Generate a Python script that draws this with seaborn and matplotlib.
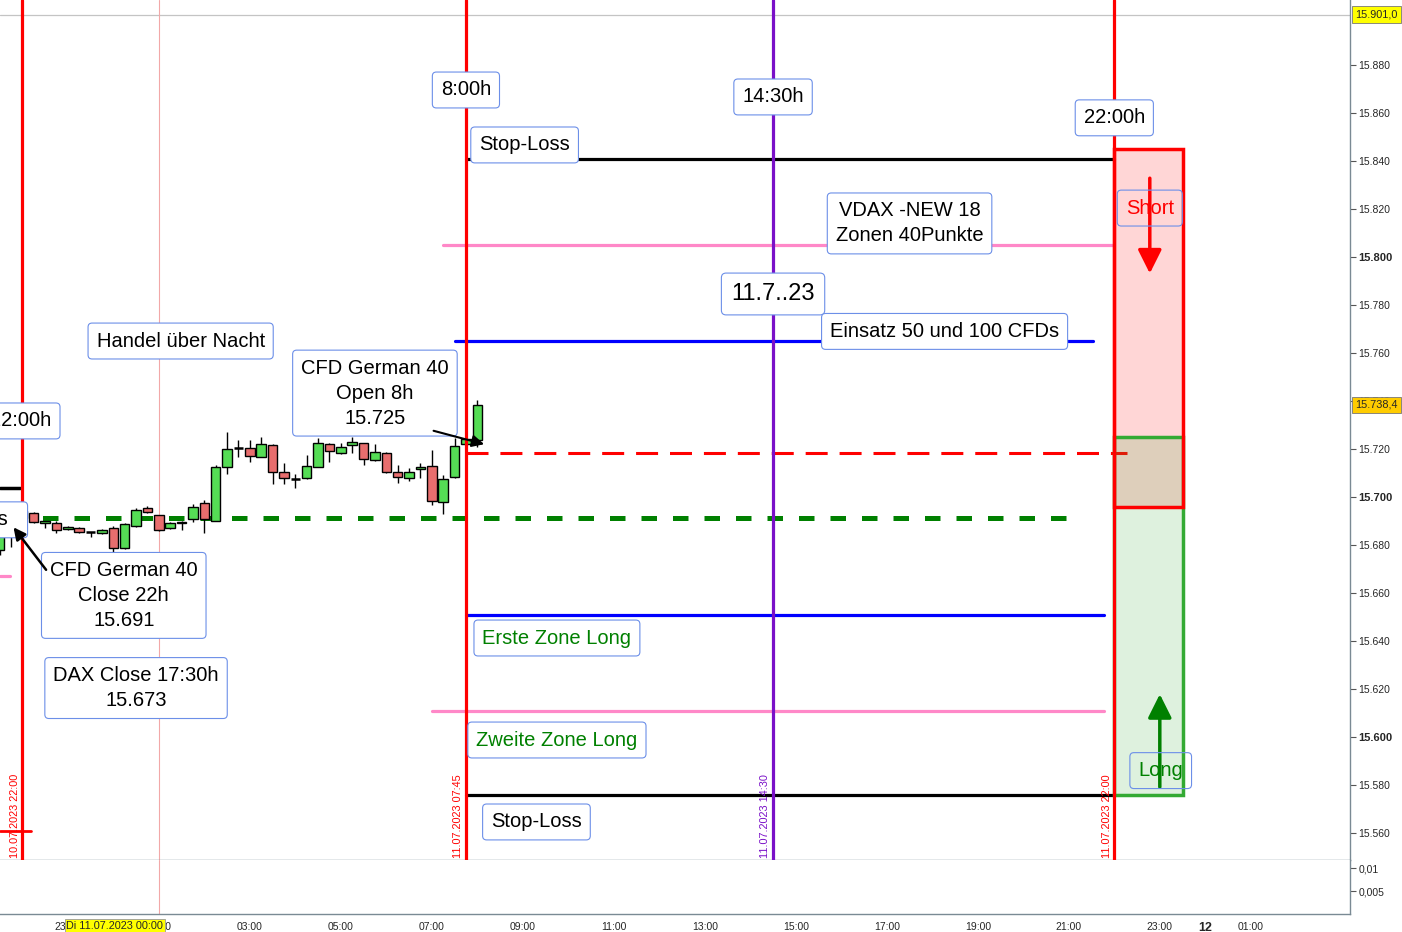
import numpy as np
import pandas as pd
import seaborn as sns
import matplotlib.pyplot as plt
from matplotlib.patches import Rectangle
from matplotlib.transforms import blended_transform_factory

sns.set_style('white')
plt.rcParams['font.family'] = ['Liberation Sans', 'DejaVu Sans']

# 15-min candles, 10.07.2023 21:30 -> 11.07.2023 08:00
times = pd.date_range('2023-07-10 21:30', '2023-07-11 08:00', freq='15min')
opens = [15678.0, 15685.0, 15691.2, 15693.3, 15689.2, 15689.2, 15686.7, 15687.1, 15685.4, 15685.0,
         15687.1, 15678.8, 15687.9, 15695.4, 15692.5, 15687.1, 15689.2, 15690.8, 15697.5, 15690.0,
         15712.5, 15720.4, 15720.4, 15716.7, 15721.7, 15710.4, 15707.5, 15707.9, 15712.5, 15722.1,
         15718.3, 15721.7, 15722.5, 15715.4, 15718.3, 15710.4, 15707.9, 15711.7, 15712.9, 15697.9,
         15708.3, 15722.1, 15723.8]
highs = [15687.0, 15692.5, 15695.0, 15693.8, 15690.2, 15690.0, 15688.0, 15687.5, 15685.6, 15686.5,
         15687.9, 15689.0, 15695.4, 15696.2, 15692.7, 15689.5, 15689.8, 15697.1, 15698.8, 15713.3,
         15727.1, 15723.8, 15723.8, 15725.0, 15722.0, 15714.2, 15709.6, 15717.5, 15724.6, 15722.5,
         15722.5, 15725.0, 15722.7, 15722.1, 15718.8, 15713.3, 15712.1, 15714.2, 15719.6, 15709.2,
         15724.6, 15725.0, 15740.4]
lows = [15676.0, 15679.2, 15690.5, 15689.0, 15687.1, 15685.0, 15686.3, 15685.0, 15683.3, 15684.6,
        15676.7, 15678.5, 15687.5, 15693.5, 15686.0, 15686.8, 15686.2, 15689.6, 15685.0, 15689.8,
        15709.6, 15716.7, 15714.6, 15716.5, 15705.4, 15705.4, 15703.8, 15707.7, 15712.3, 15714.6,
        15718.0, 15718.3, 15713.3, 15715.0, 15710.0, 15705.8, 15706.7, 15707.9, 15696.7, 15692.9,
        15708.0, 15721.5, 15720.8]
closes = [15686.0, 15690.8, 15694.2, 15689.6, 15690.0, 15686.2, 15687.5, 15685.4, 15685.4, 15686.2,
          15678.8, 15688.8, 15694.6, 15693.8, 15686.2, 15689.2, 15689.6, 15695.8, 15690.8, 15712.5,
          15720.0, 15720.4, 15717.1, 15722.1, 15710.4, 15707.9, 15707.5, 15712.9, 15722.5, 15719.2,
          15720.8, 15722.9, 15715.8, 15718.8, 15710.4, 15708.3, 15710.4, 15712.5, 15698.3, 15707.5,
          15721.2, 15724.2, 15738.4]

# horizontal levels: name, price, start hour, end hour
level_names = ['sl_top', 'vdax_top', 'blue_top', 'open_8h', 'close_22h', 'blue_low', 'vdax_low', 'sl_low']
level_prices = [15841, 15805, 15765, 15718.3, 15691.2, 15651, 15611, 15576]
level_start = [7.75, 7.25, 7.5, 7.75, -2.25, 7.75, 7.0, 7.75]
level_end = [22.0, 22.0, 21.53, 22.28, 21.3, 21.77, 21.77, 22.0]

vline_hours = [-2.0, 7.75, 14.5, 22.0]
vline_labels = ['10.07.2023 22:00', '11.07.2023 07:45', '11.07.2023 14:30', '11.07.2023 22:00']
vline_colors = ['#ff0000', '#ff0000', '#7a10c8', '#ff0000']

short_zone = (15845, 15695.8)
long_zone = (15725, 15576)

base = pd.Timestamp('2023-07-11 00:00')
hours = (times - base) / pd.Timedelta(hours=1)

fig = plt.figure(figsize=(14.02, 9.32), dpi=100)
ax = fig.add_axes([0, 1 - 860 / 932, 1350 / 1402, 860 / 932])
ax2 = fig.add_axes([0, 1 - 914 / 932, 1350 / 1402, 54 / 932], sharex=ax)

x0, x1 = -2.49, 27.18
ax.set_xlim(x0, x1)
ax.set_ylim(15548.75, 15907.1)
ax2.set_ylim(0, 0.01174)

# candles
w = 0.21
for h, o, hi, lo, c in zip(hours, opens, highs, lows, closes):
    ax.vlines(h, lo, hi, color='black', lw=1, zorder=3)
    if abs(c - o) < 0.05:
        ax.hlines(o, h - w / 2, h + w / 2, color='black', lw=1.8, zorder=4)
    else:
        col = '#55dd55' if c > o else '#e86e6e'
        ax.add_patch(Rectangle((h - w / 2, min(o, c)), w, abs(c - o), fc=col, ec='black', lw=1, zorder=4))

# level lines
styles = {
    'sl_top': dict(color='black', lw=2.3),
    'sl_low': dict(color='black', lw=2.3),
    'vdax_top': dict(color='#ff88c8', lw=2.3),
    'vdax_low': dict(color='#ff88c8', lw=2.3),
    'blue_top': dict(color='#0000ff', lw=2.3),
    'blue_low': dict(color='#0000ff', lw=2.3),
    'open_8h': dict(color='#ff0000', lw=2.2, linestyle=(0, (7.2, 3.9))),
    'close_22h': dict(color='#008000', lw=3.6, linestyle=(0, (3.1, 3.2))),
}
for name, p, s, e in zip(level_names, level_prices, level_start, level_end):
    df = pd.DataFrame({'x': [s, e], 'y': [p, p]})
    sns.lineplot(data=df, x='x', y='y', ax=ax, estimator=None, zorder=2, **styles[name])

# short leftovers at left edge
ax.plot([x0, -2.05], [15703.8, 15703.8], color='black', lw=2.5, zorder=2)
ax.plot([x0, -2.27], [15667, 15667], color='#ff88c8', lw=2.3, zorder=2)
ax.plot([x0, -1.8], [15560.8, 15560.8], color='#ff0000', lw=2, zorder=2)
ax.axhline(15901, color='#c4c4c4', lw=0.9, zorder=1)

# vertical lines
for h, lab, col in zip(vline_hours, vline_labels, vline_colors):
    ax.axvline(h, color=col, lw=2.3, zorder=5)
    ax.text(h - 0.17, 15549.6, lab, rotation=90, ha='center', va='bottom', fontsize=7.8, color=col, zorder=6)
ax.axvline(1.0, color='#f2a8a8', lw=0.8, zorder=1)
ax2.axvline(1.0, color='#f2a8a8', lw=0.8, zorder=1)

# zones
ax.add_patch(Rectangle((22.0, short_zone[1]), 1.5, short_zone[0] - short_zone[1],
                       fc=(1, 0, 0, 0.16), ec='none', zorder=2))
ax.add_patch(Rectangle((22.0, long_zone[1]), 1.5, long_zone[0] - long_zone[1],
                       fc=(0.2, 0.67, 0.2, 0.16), ec='none', zorder=2))
ax.add_patch(Rectangle((22.0, long_zone[1]), 1.5, long_zone[0] - long_zone[1],
                       fc='none', ec='#33aa33', lw=2.5, zorder=3))
ax.add_patch(Rectangle((22.0, short_zone[1]), 1.5, short_zone[0] - short_zone[1],
                       fc='none', ec='#ff0000', lw=2.5, zorder=3))

ax.annotate('', xy=(22.78, 15792), xytext=(22.78, 15834),
            arrowprops=dict(arrowstyle='-|>', color='#ff0000', lw=2.5, mutation_scale=36), zorder=6)
ax.annotate('', xy=(23.0, 15619), xytext=(23.0, 15578),
            arrowprops=dict(arrowstyle='-|>', color='#008000', lw=2.5, mutation_scale=36), zorder=6)


def box(x, y, txt, color='black', size=14.5, fc='white', ha='center'):
    return ax.text(x, y, txt, ha=ha, va='center', fontsize=size, color=color, zorder=7,
                   linespacing=1.4, clip_on=True,
                   bbox=dict(boxstyle='round,pad=0.42,rounding_size=0.2', fc=fc, ec='#6c8fe8', lw=0.8))


box(7.75, 15869.6, '8:00h')
box(14.5, 15866.7, '14:30h')
box(22.0, 15858, '22:00h')
box(9.04, 15846.7, 'Stop-Loss')
box(17.5, 15814, 'VDAX -NEW 18\nZonen 40Punkte')
box(14.5, 15784.6, '11.7..23', size=17)
box(18.27, 15769, 'Einsatz 50 und 100 CFDs')
box(1.48, 15765, 'Handel über Nacht')
box(5.75, 15743.3, 'CFD German 40\nOpen 8h\n15.725')
box(-2.03, 15731.7, '22:00h')
box(-2.07, 15690.5, 'Stop-Loss  ', ha='right')
box(0.23, 15659, 'CFD German 40\nClose 22h\n15.691')
box(0.5, 15620.4, 'DAX Close 17:30h\n15.673')
box(9.75, 15641.25, 'Erste Zone Long', color='#008000')
box(9.75, 15598.75, 'Zweite Zone Long', color='#008000')
box(9.3, 15564.6, 'Stop-Loss')
box(22.78, 15820.4, 'Short', color='#ff0000', fc='none')
box(23.02, 15586, 'Long', color='#008000', fc='none')

ax.annotate('', xy=(8.21, 15721.7), xytext=(6.98, 15727.9),
            arrowprops=dict(arrowstyle='-|>', color='black', lw=1.5, mutation_scale=18), zorder=8)
ax.annotate('', xy=(-2.23, 15688.3), xytext=(-1.44, 15668.75),
            arrowprops=dict(arrowstyle='-|>', color='black', lw=1.8, mutation_scale=18), zorder=8)

# axes styling
for a in (ax, ax2):
    a.set_xlabel('')
    a.set_ylabel('')
    a.yaxis.tick_right()
    for sp in ('left', 'top'):
        a.spines[sp].set_visible(False)
    for sp in ('right', 'bottom'):
        a.spines[sp].set_color('#7a8a94')
        a.spines[sp].set_linewidth(1)
    a.tick_params(axis='y', direction='out', length=4, width=0.8, color='#555555', labelsize=7.5, pad=2)

ax.tick_params(axis='x', bottom=False, labelbottom=False)
yt = list(range(15560, 15881, 20))
ax.set_yticks(yt)
ax.set_yticklabels([f'{v:,}'.replace(',', '.') for v in yt])
for v, lab in zip(yt, ax.get_yticklabels()):
    if v % 100 == 0:
        lab.set_fontweight('bold')
        lab.set_fontsize(8)

ax2.set_yticks([0.005, 0.01])
ax2.set_yticklabels(['0,005', '0,01'])

xt = [-1, 0, 1, 3, 5, 7, 9, 11, 13, 15, 17, 19, 21, 23, 24, 25, 27]
xl = ['23:00', '', '01:00', '03:00', '05:00', '07:00', '09:00', '11:00', '13:00', '15:00',
      '17:00', '19:00', '21:00', '23:00', '12', '01:00', '']
ax2.set_xticks(xt)
ax2.set_xticklabels(xl)
ax2.tick_params(axis='x', direction='out', length=3, width=0.8, color='#555555', labelsize=7.5, pad=3)
ax2.get_xticklabels()[14].set_fontweight('bold')
ax2.get_xticklabels()[14].set_fontsize(9)

tr = blended_transform_factory(ax2.transData, fig.transFigure)
fig.text(0.03, 1 - 926 / 932, 'Di 11.07.2023 00:00', transform=tr, ha='center', va='center', fontsize=7.8,
         bbox=dict(boxstyle='square,pad=0.15', fc='#ffff00', ec='#999999', lw=0.6), zorder=10)

# last value labels
ty = blended_transform_factory(fig.transFigure, ax.transData)
fig.text(1355 / 1402, 15901, '15.901,0', transform=ty, ha='left', va='center', fontsize=7.8,
         bbox=dict(boxstyle='square,pad=0.3', fc='#ffff00', ec='#777777', lw=0.6), zorder=10)
fig.text(1355 / 1402, 15738.4, '15.738,4', transform=ty, ha='left', va='center', fontsize=7.8,
         bbox=dict(boxstyle='square,pad=0.3', fc='#ffcc00', ec='#777777', lw=0.6), zorder=10)

fig.savefig('out.png', dpi=100)
